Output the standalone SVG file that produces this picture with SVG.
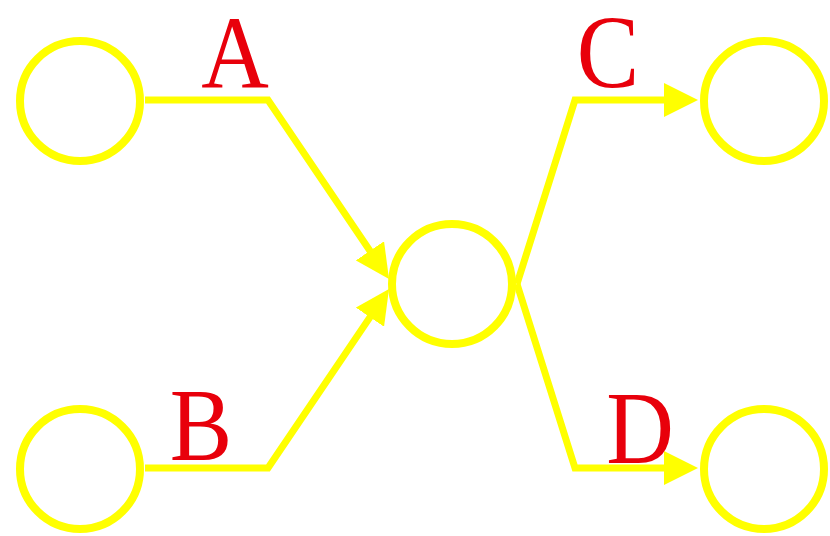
<svg xmlns="http://www.w3.org/2000/svg" width="830" height="536" viewBox="0 0 830 536">
  <defs>
    <style>
      .node { fill: #FFFFFF; stroke: #FFFF00; stroke-width: 8; }
      .edge { fill: none; stroke: #FFFF00; stroke-width: 7; stroke-linejoin: miter; }
      .lbl { font-family: "Liberation Serif", "Times New Roman", serif; font-size: 104px; fill: #E8000B; text-anchor: middle; }
    </style>
    <marker id="arr" viewBox="0 0 34 34" refX="14" refY="17" markerWidth="34" markerHeight="34" markerUnits="userSpaceOnUse" orient="auto">
      <path d="M0,0 L34,17 L0,34 Z" fill="#FFFF00"/>
    </marker>
  </defs>
  <rect width="830" height="536" fill="#FFFFFF"/>
  <g id="connectors">
    <path class="edge" d="M145,100 L268,100 L377.8,262.4" marker-end="url(#arr)"/>
    <path class="edge" d="M145,468 L268,468 L377.8,305.6" marker-end="url(#arr)"/>
    <path class="edge" d="M517,284 L575,100 L678,100" marker-end="url(#arr)"/>
    <path class="edge" d="M517,284 L575,468 L678,468" marker-end="url(#arr)"/>
  </g>
  <g id="n1"><circle class="node" cx="80" cy="101" r="60"/></g>
  <g id="n2"><circle class="node" cx="80" cy="469" r="60"/></g>
  <g id="n3"><circle class="node" cx="452" cy="284" r="60"/></g>
  <g id="n4"><circle class="node" cx="764" cy="101" r="60"/></g>
  <g id="n5"><circle class="node" cx="764" cy="469" r="60"/></g>
  <g id="labels">
    <text class="lbl" transform="translate(235,88) scale(0.9,1)">A</text>
    <text class="lbl" transform="translate(201,460) scale(0.9,1)">B</text>
    <text class="lbl" transform="translate(608,87) scale(0.9,1)">C</text>
    <text class="lbl" transform="translate(640,463) scale(0.9,1)">D</text>
  </g>
</svg>
